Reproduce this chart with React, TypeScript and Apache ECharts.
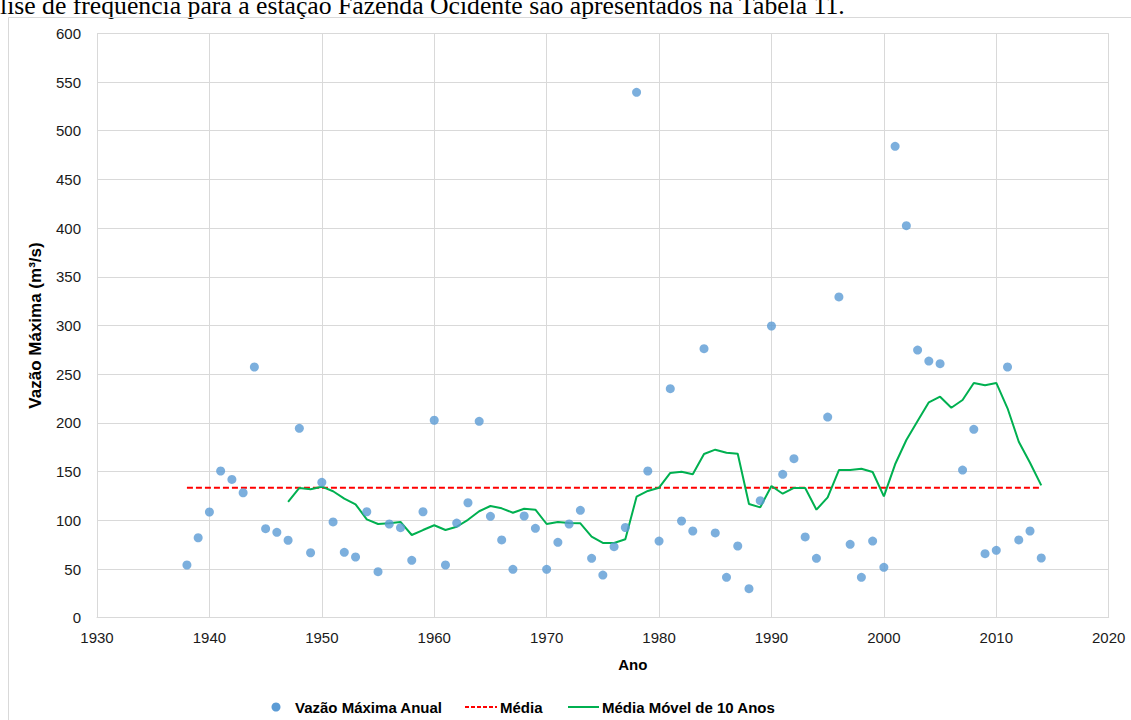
import React, { useEffect, useRef } from "react";
import * as echarts from "echarts";

const scatterYears = [
  1938, 1939, 1940, 1941, 1942, 1943, 1944, 1945, 1946, 1947, 1948, 1949, 1950,
  1951, 1952, 1953, 1954, 1955, 1956, 1957, 1958, 1959, 1960, 1961, 1962, 1963,
  1964, 1965, 1966, 1967, 1968, 1969, 1970, 1971, 1972, 1973, 1974, 1975, 1976,
  1977, 1978, 1979, 1980, 1981, 1982, 1983, 1984, 1985, 1986, 1987, 1988, 1989,
  1990, 1991, 1992, 1993, 1994, 1995, 1996, 1997, 1998, 1999, 2000, 2001, 2002,
  2003, 2004, 2005, 2007, 2008, 2009, 2010, 2011, 2012, 2013, 2014,
];
const vazaoMaxima = [
  54.1, 82.1, 108.5, 150.6, 142, 128.3, 257.4, 91.4, 87.7, 79.5, 194.4, 66.7, 139,
  98.3, 67.1, 62.3, 108.8, 47.2, 96.2, 92.4, 58.9, 108.8, 202.7, 54.1, 97.2, 118,
  201.6, 104.1, 79.8, 49.7, 104.4, 91.8, 49.7, 77.4, 96.2, 110.2, 61, 43.8, 72.9,
  92.6, 539.4, 150.6, 78.7, 235.1, 99.3, 89, 276.2, 87, 41.5, 73.6, 29.8, 120.1,
  299.5, 147.2, 163.3, 82.9, 61, 206, 329.3, 75.3, 41.5, 78.7, 51.7, 484, 402.5,
  274.8, 263.5, 260.8, 151.6, 193.4, 65.7, 69.2, 257.4, 79.8, 89, 61.3,
];

const mediaYears = [1938, 2014];
const mediaValues = [133.3, 133.3];

const movelYears = [
  1947, 1948, 1949, 1950, 1951, 1952, 1953, 1954, 1955, 1956, 1957, 1958, 1959,
  1960, 1961, 1962, 1963, 1964, 1965, 1966, 1967, 1968, 1969, 1970, 1971, 1972,
  1973, 1974, 1975, 1976, 1977, 1978, 1979, 1980, 1981, 1982, 1983, 1984, 1985,
  1986, 1987, 1988, 1989, 1990, 1991, 1992, 1993, 1994, 1995, 1996, 1997, 1998,
  1999, 2000, 2001, 2002, 2003, 2004, 2005, 2006, 2007, 2008, 2009, 2010, 2011,
  2012, 2013, 2014,
];
const mediaMovel = [
  118.8, 133.2, 131.8, 134.5, 129.8, 122.2, 116.4, 101, 96.2, 96.9, 98.3, 84.9, 90,
  94.9, 90, 93.4, 100.5, 109.3, 114.7, 112.3, 107.8, 111.9, 110.9, 96.2, 98.3, 97.2,
  96.9, 83.2, 76.7, 76.7, 80.5, 124.2, 130.1, 133.5, 148.6, 149.9, 147.2, 168.1, 172.5,
  169.4, 168.4, 116.7, 113.3, 135.2, 127.3, 133.2, 133.2, 110.9, 123.6, 151.6, 151.6, 153,
  149.6, 124.6, 157.5, 182.4, 202, 221.1, 226.9, 215.6, 223.5, 241, 238.6, 241, 215,
  180.7, 159.1, 135.9,
];

const xTicks = { min: 1930, max: 2020, interval: 10 };
const yTicks = { min: 0, max: 600, interval: 50 };

const seriesNames = ["Vazão Máxima Anual", "Média", "Média Móvel de 10 Anos"];
const colors = { scatter: "#5b9bd5", media: "#ff0000", movel: "#00b050" };

const zip = (xs: number[], ys: number[]) => xs.map((x, i) => [x, ys[i]]);

export default function App() {
  const ref = useRef<HTMLDivElement>(null);
  useEffect(() => {
    if (!ref.current) return;
    const chart = echarts.init(ref.current, null, { renderer: "svg" });
    const font = "Liberation Sans, Arial, sans-serif";
    const axisText = { color: "#1a1a1a", fontFamily: font, fontSize: 15 };
    const legendText = (x: number, text: string) => ({
      type: "text",
      x,
      y: 707,
      style: { text, fill: "#000", font: `bold 15px ${font}`, verticalAlign: "middle", align: "left" },
      silent: true,
    });
    chart.setOption({
      animation: false,
      graphic: [
        {
          type: "rect",
          shape: { x: 8.5, y: 17.5, width: 1140, height: 720 },
          style: { fill: "none", stroke: "#d9d9d9", lineWidth: 1 },
          silent: true,
        },
        { type: "circle", shape: { cx: 276, cy: 707, r: 4.5 }, style: { fill: colors.scatter }, silent: true },
        legendText(295, seriesNames[0]),
        {
          type: "line",
          shape: { x1: 465, y1: 707, x2: 497, y2: 707 },
          style: { stroke: colors.media, lineWidth: 2, lineDash: [4, 2] },
          silent: true,
        },
        legendText(500, seriesNames[1]),
        {
          type: "line",
          shape: { x1: 568, y1: 707, x2: 599, y2: 707 },
          style: { stroke: colors.movel, lineWidth: 2 },
          silent: true,
        },
        legendText(602, seriesNames[2]),
      ],
      grid: { left: 97, right: 22.3, top: 33.3, bottom: 102.3, containLabel: false },
      xAxis: {
        type: "value",
        min: xTicks.min,
        max: xTicks.max,
        interval: xTicks.interval,
        name: "Ano",
        nameLocation: "middle",
        nameGap: 39,
        nameTextStyle: { ...axisText, color: "#000", fontWeight: "bold", padding: [0, 0, 0, 60] },
        axisLine: { show: true, lineStyle: { color: "#d9d9d9", width: 1 } },
        axisTick: { show: false },
        axisLabel: { ...axisText, margin: 12, formatter: (v: number) => String(v) },
        splitLine: { show: true, lineStyle: { color: "#d9d9d9", width: 1 } },
      },
      yAxis: {
        type: "value",
        min: yTicks.min,
        max: yTicks.max,
        interval: yTicks.interval,
        name: "Vazão Máxima (m³/s)",
        nameLocation: "middle",
        nameGap: 53,
        nameTextStyle: { ...axisText, color: "#000", fontWeight: "bold", fontSize: 17 },
        axisLine: { show: false },
        axisTick: { show: false },
        axisLabel: { ...axisText, margin: 16 },
        splitLine: { show: true, lineStyle: { color: "#d9d9d9", width: 1 } },
      },
      series: [
        {
          name: seriesNames[0],
          type: "scatter",
          symbol: "circle",
          symbolSize: 9,
          itemStyle: { color: colors.scatter },
          data: zip(scatterYears, vazaoMaxima),
          z: 3,
        },
        {
          name: seriesNames[1],
          type: "line",
          symbol: "none",
          lineStyle: { color: colors.media, width: 2, type: [6, 3] },
          data: zip(mediaYears, mediaValues),
          z: 2,
        },
        {
          name: seriesNames[2],
          type: "line",
          symbol: "none",
          lineStyle: { color: colors.movel, width: 2 },
          data: zip(movelYears, mediaMovel),
          z: 2,
        },
      ],
    });
    return () => chart.dispose();
  }, []);

  return (
    <div style={{ position: "fixed", left: 0, top: 0, width: 1131, height: 720, overflow: "hidden", background: "#fff" }}>
      <div
        style={{
          position: "absolute",
          left: 0,
          top: -8,
          whiteSpace: "nowrap",
          fontFamily: "Liberation Serif, Times New Roman, serif",
          fontSize: 25.7,
          color: "#000",
          lineHeight: "28px",
        }}
      >
        lise de frequência para a estação Fazenda Ocidente são apresentados na Tabela 11.
      </div>
      <div ref={ref} style={{ position: "absolute", left: 0, top: 0, width: 1131, height: 720 }} />
    </div>
  );
}
